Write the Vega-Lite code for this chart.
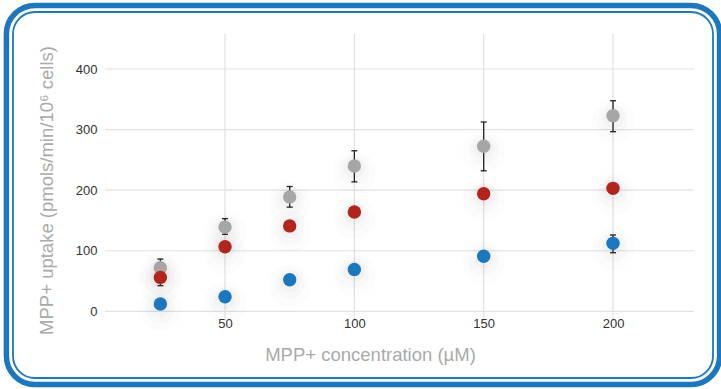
{
  "$schema": "https://vega.github.io/schema/vega-lite/v6.json",
  "width": 700,
  "height": 366,
  "autosize": "none",
  "padding": {"left": 13, "top": 12, "right": 8, "bottom": 11},
  "background": "white",
  "config": {"view": {"stroke": null}, "font": "Liberation Sans"},
  "datasets": {
    "points": [
      {"s": "gray", "x": 25, "y": 72, "lo": 42.3, "hi": 86.3},
      {"s": "gray", "x": 50, "y": 139, "lo": 127, "hi": 153},
      {"s": "gray", "x": 75, "y": 188.6, "lo": 172, "hi": 206},
      {"s": "gray", "x": 100, "y": 240, "lo": 213.7, "hi": 265},
      {"s": "gray", "x": 150, "y": 272.4, "lo": 232, "hi": 312.5},
      {"s": "gray", "x": 200, "y": 323, "lo": 296.5, "hi": 347.6},
      {"s": "red", "x": 25, "y": 56},
      {"s": "red", "x": 50, "y": 106.6},
      {"s": "red", "x": 75, "y": 141},
      {"s": "red", "x": 100, "y": 164},
      {"s": "red", "x": 150, "y": 194},
      {"s": "red", "x": 200, "y": 203},
      {"s": "blue", "x": 25, "y": 12},
      {"s": "blue", "x": 50, "y": 24},
      {"s": "blue", "x": 75, "y": 52},
      {"s": "blue", "x": 100, "y": 69},
      {"s": "blue", "x": 150, "y": 91},
      {"s": "blue", "x": 200, "y": 112.2, "lo": 96.7, "hi": 126}
    ],
    "frame": [{}],
    "hgrid": [{"v": 0}, {"v": 100}, {"v": 200}, {"v": 300}, {"v": 400}],
    "vgrid": [{"v": 50}, {"v": 100}, {"v": 150}, {"v": 200}]
  },
  "layer": [
    {
      "data": {"name": "frame"},
      "mark": {"type": "rect", "filled": false, "stroke": "#1a78c2", "strokeWidth": 18.7, "cornerRadius": 22},
      "encoding": {}
    },
    {
      "data": {"name": "frame"},
      "mark": {"type": "rect", "filled": true, "color": "white", "opacity": 1, "stroke": "white", "strokeWidth": 7.7, "cornerRadius": 22},
      "encoding": {}
    },
    {
      "data": {"name": "frame"},
      "mark": {"type": "rect", "filled": false, "stroke": "#1a78c2", "strokeWidth": 1.8, "cornerRadius": 22},
      "encoding": {}
    },
    {
      "data": {"name": "hgrid"},
      "mark": {"type": "rule", "color": "#e2e2e2", "strokeWidth": 1.2},
      "encoding": {
        "y": {"field": "v", "type": "quantitative", "scale": {"domain": [-110.1, 494.1], "nice": false, "zero": false},
          "axis": {"values": [0, 100, 200, 300, 400], "domain": false, "ticks": false, "grid": false, "offset": -84, "labelPadding": 0, "labelFontSize": 13, "labelColor": "#333333", "labelFlush": false, "labelOverlap": false, "title": "MPP+ uptake (pmols/min/10⁶ cells)", "titleFontSize": 18.5, "titleFontWeight": "normal", "titleColor": "#aaaaaa", "titleAngle": 270, "titleX": -45, "titleY": 178, "titleAlign": "center", "titleBaseline": "alphabetic", "zindex": 1}},
        "x": {"datum": 3.63, "type": "quantitative", "scale": {"domain": [-31.97, 238.65], "nice": false, "zero": false},
          "axis": {"values": [50, 100, 150, 200], "domain": false, "ticks": false, "grid": false, "offset": -64, "labelPadding": 3, "labelFontSize": 13, "labelColor": "#333333", "labelFlush": false, "labelOverlap": false, "title": "MPP+ concentration (µM)", "titleFontSize": 18.5, "titleFontWeight": "normal", "titleColor": "#aaaaaa", "titleX": 357, "titleY": 46.7, "titleAlign": "center", "titleBaseline": "alphabetic", "zindex": 1}},
        "x2": {"datum": 231.2}
      }
    },
    {
      "data": {"name": "vgrid"},
      "mark": {"type": "rule", "color": "#e2e2e2", "strokeWidth": 1.2},
      "encoding": {
        "x": {"field": "v", "type": "quantitative", "title": "MPP+ concentration (µM)", "scale": {"domain": [-31.97, 238.65], "nice": false, "zero": false}},
        "y": {"datum": -15.5, "type": "quantitative", "title": "MPP+ uptake (pmols/min/10⁶ cells)", "scale": {"domain": [-110.1, 494.1], "nice": false, "zero": false}},
        "y2": {"datum": 457.7}
      }
    },
    {
      "data": {"name": "points"},
      "mark": {"type": "point", "filled": true, "color": "#000000", "opacity": 0.012, "size": 1800, "strokeWidth": 0, "yOffset": 6},
      "encoding": {
        "x": {"field": "x", "type": "quantitative", "title": "MPP+ concentration (µM)", "scale": {"domain": [-31.97, 238.65], "nice": false, "zero": false}},
        "y": {"field": "y", "type": "quantitative", "title": "MPP+ uptake (pmols/min/10⁶ cells)", "scale": {"domain": [-110.1, 494.1], "nice": false, "zero": false}}
      }
    },
    {
      "data": {"name": "points"},
      "mark": {"type": "point", "filled": true, "color": "#000000", "opacity": 0.015, "size": 900, "strokeWidth": 0, "yOffset": 4},
      "encoding": {
        "x": {"field": "x", "type": "quantitative", "title": "MPP+ concentration (µM)", "scale": {"domain": [-31.97, 238.65], "nice": false, "zero": false}},
        "y": {"field": "y", "type": "quantitative", "title": "MPP+ uptake (pmols/min/10⁶ cells)", "scale": {"domain": [-110.1, 494.1], "nice": false, "zero": false}}
      }
    },
    {
      "data": {"name": "points"},
      "mark": {"type": "point", "filled": true, "color": "#000000", "opacity": 0.02, "size": 450, "strokeWidth": 0, "yOffset": 2},
      "encoding": {
        "x": {"field": "x", "type": "quantitative", "title": "MPP+ concentration (µM)", "scale": {"domain": [-31.97, 238.65], "nice": false, "zero": false}},
        "y": {"field": "y", "type": "quantitative", "title": "MPP+ uptake (pmols/min/10⁶ cells)", "scale": {"domain": [-110.1, 494.1], "nice": false, "zero": false}}
      }
    },
    {
      "data": {"name": "points"},
      "transform": [{"filter": "isValid(datum.lo)"}],
      "mark": {"type": "rule", "color": "#222222", "strokeWidth": 1.3},
      "encoding": {
        "x": {"field": "x", "type": "quantitative", "title": "MPP+ concentration (µM)", "scale": {"domain": [-31.97, 238.65], "nice": false, "zero": false}},
        "y": {"field": "lo", "type": "quantitative", "title": "MPP+ uptake (pmols/min/10⁶ cells)", "scale": {"domain": [-110.1, 494.1], "nice": false, "zero": false}},
        "y2": {"field": "hi"}
      }
    },
    {
      "data": {"name": "points"},
      "transform": [{"filter": "isValid(datum.lo)"}],
      "mark": {"type": "tick", "orient": "horizontal", "color": "#222222", "thickness": 1.3, "size": 6, "opacity": 1},
      "encoding": {
        "x": {"field": "x", "type": "quantitative", "title": "MPP+ concentration (µM)", "scale": {"domain": [-31.97, 238.65], "nice": false, "zero": false}},
        "y": {"field": "lo", "type": "quantitative", "title": "MPP+ uptake (pmols/min/10⁶ cells)", "scale": {"domain": [-110.1, 494.1], "nice": false, "zero": false}}
      }
    },
    {
      "data": {"name": "points"},
      "transform": [{"filter": "isValid(datum.hi)"}],
      "mark": {"type": "tick", "orient": "horizontal", "color": "#222222", "thickness": 1.3, "size": 6, "opacity": 1},
      "encoding": {
        "x": {"field": "x", "type": "quantitative", "title": "MPP+ concentration (µM)", "scale": {"domain": [-31.97, 238.65], "nice": false, "zero": false}},
        "y": {"field": "hi", "type": "quantitative", "title": "MPP+ uptake (pmols/min/10⁶ cells)", "scale": {"domain": [-110.1, 494.1], "nice": false, "zero": false}}
      }
    },
    {
      "data": {"name": "points"},
      "mark": {"type": "point", "filled": true, "opacity": 1, "size": 180, "strokeWidth": 0},
      "encoding": {
        "x": {"field": "x", "type": "quantitative", "title": "MPP+ concentration (µM)", "scale": {"domain": [-31.97, 238.65], "nice": false, "zero": false}},
        "y": {"field": "y", "type": "quantitative", "title": "MPP+ uptake (pmols/min/10⁶ cells)", "scale": {"domain": [-110.1, 494.1], "nice": false, "zero": false}},
        "color": {
          "field": "s", "type": "nominal", "legend": null,
          "scale": {"domain": ["gray", "red", "blue"], "range": ["#a6a6a6", "#b3241a", "#1a78c2"]}
        }
      }
    }
  ]
}
